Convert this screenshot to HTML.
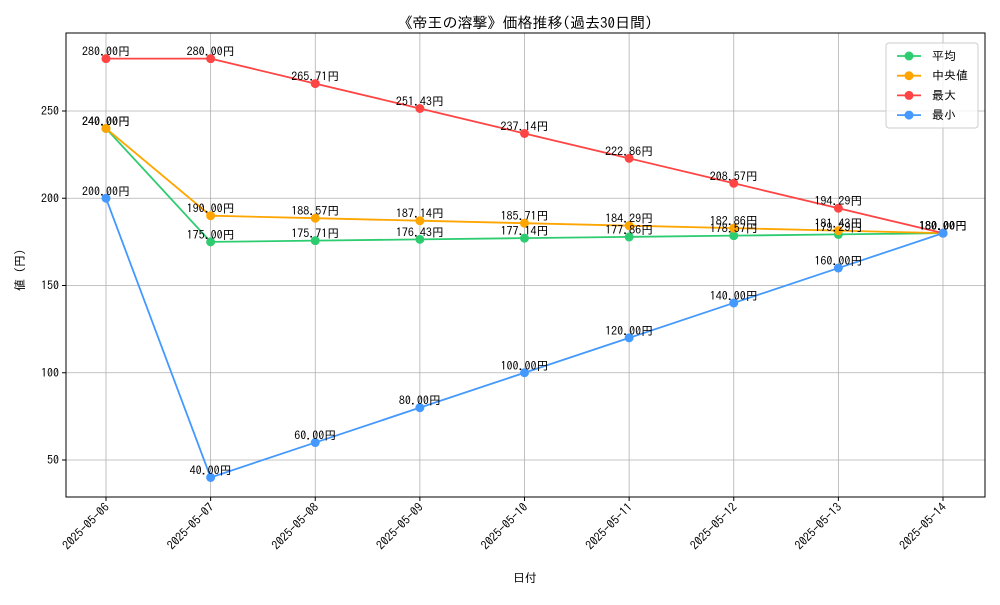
<!DOCTYPE html>
<html><head><meta charset="utf-8"><style>
body{margin:0;background:#fff}
svg text{font-family:"IPAGothic","Liberation Sans","Noto Sans CJK JP",sans-serif;fill:#000}
</style></head><body>
<svg id="chart" width="1000" height="600" viewBox="0 0 1000 600" xmlns="http://www.w3.org/2000/svg">
<rect x="0" y="0" width="1000" height="600" fill="#fff"/>
<text x="525" y="28" font-size="15" text-anchor="middle">《帝王の溶撃》価格推移(過去30日間)</text>
<g id="grid"></g>
<g id="axes"></g>
<g id="series"></g>
<g id="labels"></g>
<rect x="66" y="33" width="919" height="464" fill="none" stroke="#000" stroke-width="1"/>
<text x="525" y="582" font-size="12" text-anchor="middle">日付</text>
<text x="24" y="270" font-size="12" text-anchor="middle" transform="rotate(-90 24 270)">値 (円)</text>
<g id="legend"></g>
</svg>
<script>
const categories=["2025-05-06","2025-05-07","2025-05-08","2025-05-09","2025-05-10","2025-05-11","2025-05-12","2025-05-13","2025-05-14"];
const meanValues=[240,175,175.71,176.43,177.14,177.86,178.57,179.29,180];
const medianValues=[240,190,188.57,187.14,185.71,184.29,182.86,181.43,180];
const maxValues=[280,280,265.71,251.43,237.14,222.86,208.57,194.29,180];
const minValues=[200,40,60,80,100,120,140,160,180];
const yTicks=[50,100,150,200,250];
const seriesNames=["平均","中央値","最大","最小"];
const NS="http://www.w3.org/2000/svg";
function xPos(i){return 106+i*(943-106)/(categories.length-1);}
function yPos(v){return 460-(v-50)*(460-111)/200;}
function mk(tag,attrs,parent){const e=document.createElementNS(NS,tag);for(const k in attrs)e.setAttribute(k,attrs[k]);parent.appendChild(e);return e;}
const grid=document.getElementById('grid'),axes=document.getElementById('axes'),ser=document.getElementById('series'),lab=document.getElementById('labels'),leg=document.getElementById('legend');
categories.forEach((c,i)=>{
 const x=xPos(i);
 const g=mk('line',{x1:x,x2:x,y1:33,y2:497,stroke:'#b0b0b0','stroke-width':0.8},grid);
 
 
 const t=mk('line',{x1:x,x2:x,y1:497,y2:501,stroke:'#000'},axes);
 
 
 const tx=mk('text',{x:x+4,y:508,'font-size':12,'text-anchor':'end',transform:`rotate(-45 ${x+4} 508)`},axes);
 tx.textContent=c;
 
 
});
yTicks.forEach(v=>{
 const y=yPos(v);
 const g=mk('line',{x1:66,x2:985,y1:y,y2:y,stroke:'#b0b0b0','stroke-width':0.8},grid);
 
 
 const t=mk('line',{x1:62,x2:66,y1:y,y2:y,stroke:'#000'},axes);
 
 
 const tx=mk('text',{x:59,y:y+4,'font-size':12,'text-anchor':'end'},axes);
 tx.textContent=v;
 
 
});
const all=[[meanValues,'#2ecc71','mean'],[medianValues,'#ffa500','median'],[maxValues,'#ff4444','max'],[minValues,'#4499ff','min']];
all.forEach(([vals,col,nm])=>{
 const pts=vals.map((v,i)=>xPos(i)+','+yPos(v)).join(' ');
 const pl=mk('polyline',{points:pts,fill:'none',stroke:col,'stroke-width':1.8},ser);
 
 
 vals.forEach((v,i)=>{
  const c=mk('circle',{cx:xPos(i),cy:yPos(v),r:4.5,fill:col},ser);
  
  
  const t=mk('text',{x:xPos(i),y:yPos(v)-3,'font-size':12,'text-anchor':'middle'},lab);
  t.textContent=v.toFixed(2)+'円';
  
  
 });
});
const box=mk('rect',{x:886,y:43,width:92,height:85,fill:'#fff','fill-opacity':0.8,stroke:'#ccc',rx:3},leg);


all.forEach(([vals,col,nm],k)=>{
 const y=56+k*19.7;
 const l=mk('line',{x1:897,x2:921,y1:y,y2:y,stroke:col,'stroke-width':1.8},leg);
 
 
 const c=mk('circle',{cx:909,cy:y,r:4.5,fill:col},leg);
 
 
 const t=mk('text',{x:932,y:y+4,'font-size':12},leg);
 t.textContent=seriesNames[k];
 
 
});
</script>
</body></html>
